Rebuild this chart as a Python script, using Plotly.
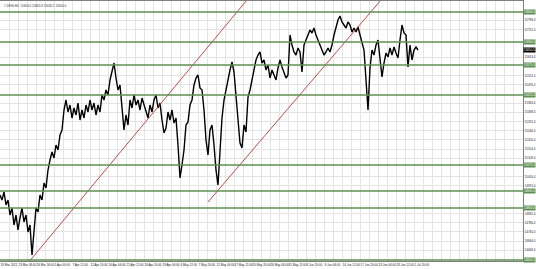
import plotly.graph_objects as go

# Price series (DE30), one value per sampled bar
prices = [
    14925, 14900, 14940, 14875, 14900, 14825, 14860, 14775, 14825, 14750, 14810, 14860, 14790, 14825, 14740, 14775,
    14625, 14725, 14860, 14840, 14925, 14900, 14985, 14960, 15050, 15100, 15140, 15110, 15175, 15150, 15225, 15250,
    15350, 15400, 15340, 15375, 15310, 15360, 15325, 15385, 15300, 15350, 15310, 15375, 15340, 15400, 15350, 15385,
    15325, 15375, 15340, 15425,
    15400, 15450, 15425, 15500, 15550, 15585, 15510, 15450, 15475, 15350, 15250, 15325, 15275, 15400, 15360, 15425,
    15375, 15400, 15350, 15410, 15375, 15340, 15310, 15375, 15340, 15400, 15425, 15360, 15385, 15300, 15235, 15260,
    15340, 15300, 15350, 15285, 15310, 15175,
    15010, 15075, 15150, 15275, 15290, 15375, 15400, 15475, 15510, 15525, 15460, 15450, 15350, 15200, 15125, 15250,
    15275, 15175, 15050, 14975,
    15125, 15310, 15400, 15460, 15500, 15550, 15590, 15540, 15425, 15325, 15185, 15160, 15275, 15240, 15415, 15450,
    15500, 15560, 15600, 15625, 15640, 15585, 15600, 15550, 15575, 15510, 15550, 15525, 15500, 15560, 15600, 15565,
    15540, 15510, 15525,
    15725, 15675, 15640, 15625, 15660, 15640, 15540, 15675, 15700, 15725, 15750, 15735, 15760, 15725, 15700, 15675,
    15650, 15625, 15640, 15660, 15640, 15675, 15725, 15760, 15800, 15820, 15790, 15775, 15760, 15790, 15775, 15740,
    15760, 15740, 15765, 15725, 15685, 15650, 15500, 15350, 15560, 15650, 15625, 15675, 15700, 15600, 15515, 15585,
    15635, 15615, 15660, 15625, 15665, 15635, 15610, 15700, 15775, 15735, 15725, 15565, 15675, 15600, 15650, 15665,
    15650,
]
bars = list(range(len(prices)))

# Horizontal support / resistance levels
levels = [15840, 15690, 15575, 15425, 15075, 14945, 14860, 14600]
last_price = 15650

# Trend lines (bar index, price)
trend1_x = [14, 123.5]
trend1_y = [14585, 15900]
trend2_x = [104, 190.5]
trend2_y = [14890, 15900]

# Time axis labels
tick_bars = [0, 9, 18, 27, 36, 45, 54, 63, 72, 81, 90, 99, 108, 117, 126, 135, 144, 153, 162, 171, 180, 189, 198, 207]
tick_labels = [
    "18 Mar 2021", "23 Mar 08:00", "26 Mar 16:00", "1 Apr 00:00", "7 Apr 12:00", "12 Apr 20:00",
    "16 Apr 04:00", "21 Apr 12:00", "26 Apr 20:00", "29 Apr 04:00", "4 May 12:00", "7 May 20:00",
    "12 May 04:00", "17 May 12:00", "20 May 20:00", "26 May 04:00", "31 May 12:00", "3 Jun 20:00",
    "9 Jun 04:00", "14 Jun 12:00", "17 Jun 20:00", "23 Jun 04:00", "28 Jun 12:00", "1 Jul 20:00",
]
title_text = "# DE30,H4  15654.6 15665.8 15630.1 15650.0"

# Price-scale tick values (skip the ones hidden behind level / price labels)
y_tick_start, y_tick_step, y_tick_count = 14602.4, 46, 29
marked = levels + [last_price]
y_ticks = [y_tick_start + k * y_tick_step for k in range(y_tick_count)]
y_ticks = [t for t in y_ticks if min(abs(t - m) for m in marked) > 22]

FONT = "Liberation Sans"
GREEN = "#5e8f52"
GRID = "#e4e4e4"

fig = go.Figure()
fig.add_trace(go.Scatter(x=bars, y=prices, mode="lines",
                         line=dict(color="black", width=1.4), showlegend=False, hoverinfo="skip"))
fig.add_trace(go.Scatter(x=trend1_x, y=trend1_y, mode="lines",
                         line=dict(color="#b23a3a", width=0.9), showlegend=False))
fig.add_trace(go.Scatter(x=trend2_x, y=trend2_y, mode="lines",
                         line=dict(color="#b23a3a", width=0.9), showlegend=False))

for lv in levels:
    fig.add_shape(type="line", xref="paper", x0=0, x1=1, yref="y", y0=lv, y1=lv,
                  line=dict(color=GREEN, width=1.4), layer="above")
    fig.add_annotation(xref="paper", x=1.0, yref="y", y=lv, text=f"{lv:.1f}", showarrow=False,
                       xanchor="left", yanchor="middle", bgcolor=GREEN, borderpad=0,
                       font=dict(family=FONT, size=3, color="white"))

fig.add_annotation(xref="paper", x=1.0, yref="y", y=last_price, text=f"{last_price:.1f}", showarrow=False,
                   xanchor="left", yanchor="middle", bgcolor="black", borderpad=0,
                   font=dict(family=FONT, size=3, color="white"))

fig.add_annotation(xref="paper", yref="paper", x=0.003, y=0.995, text=title_text, showarrow=False,
                   xanchor="left", yanchor="top", font=dict(family=FONT, size=3, color="#333333"))

fig.update_layout(
    width=536, height=269,
    margin=dict(l=0, r=13, t=1, b=8),
    paper_bgcolor="white", plot_bgcolor="white",
    showlegend=False,
    xaxis=dict(range=[0, 261.5], tickmode="array", tickvals=tick_bars, ticktext=tick_labels,
               ticklabelposition="outside right", tickangle=0,
               tickfont=dict(family=FONT, size=3, color="#222222"),
               showgrid=True, gridcolor=GRID, gridwidth=0.6,
               minor=dict(dtick=4.5, tick0=0, showgrid=True, gridcolor=GRID, gridwidth=0.6),
               showline=True, linecolor="#808080", linewidth=1, mirror=True,
               zeroline=False, ticks=""),
    yaxis=dict(range=[14595, 15895], side="right", tickmode="array", tickvals=y_ticks,
               tickformat=".1f",
               tickfont=dict(family=FONT, size=3, color="#222222"),
               showgrid=True, gridcolor=GRID, gridwidth=0.6,
               showline=True, linecolor="#808080", linewidth=1, mirror=True,
               zeroline=False, ticks=""),
)

fig.write_html("out.html")
